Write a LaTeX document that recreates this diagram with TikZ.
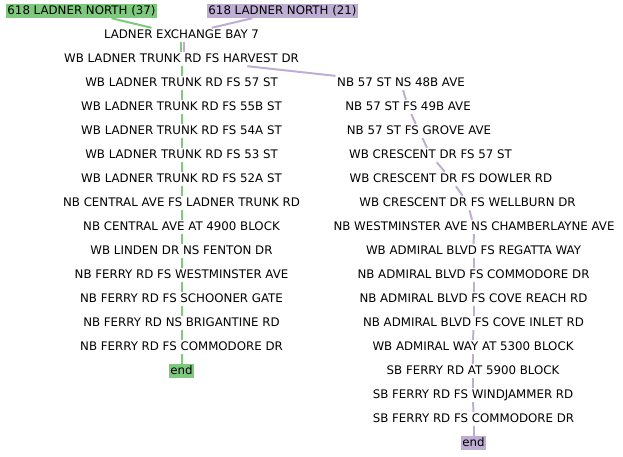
\documentclass[tikz,border=0pt]{standalone}
\usepackage{fontspec}
\setmainfont{DejaVu Sans}
\definecolor{greenroute}{HTML}{7FC97F}
\definecolor{purpleroute}{HTML}{BEAED4}
\tikzset{
  stop/.style={inner xsep=1.5pt, inner ysep=1pt, text height=9.5pt, text depth=2.5pt,
    font=\fontsize{11.8}{14}\selectfont},
  greenbox/.style={stop, fill=greenroute},
  purplebox/.style={stop, fill=purpleroute},
  greenline/.style={draw=greenroute, line width=2pt},
  purpleline/.style={draw=purpleroute, line width=2pt}
}

\begin{document}
\begin{tikzpicture}[x=1pt,y=-1pt]
    \useasboundingbox (0,0) rectangle (623,456);

    % Routes
    \node[greenbox]  (r37) at (81.5,11) {618 LADNER NORTH (37)};
    \node[purplebox] (r21) at (282.5,11) {618 LADNER NORTH (21)};

    % Vertices, left column
    \node[stop] (exchange)   at (181.5,35)  {LADNER EXCHANGE BAY 7};
    \node[stop] (harvest)    at (181.5,59)  {WB LADNER TRUNK RD FS HARVEST DR};
    \node[stop] (st57)       at (181.5,83)  {WB LADNER TRUNK RD FS 57 ST};
    \node[stop] (st55b)      at (181.5,107) {WB LADNER TRUNK RD FS 55B ST};
    \node[stop] (st54a)      at (181.5,131) {WB LADNER TRUNK RD FS 54A ST};
    \node[stop] (st53)       at (181.5,155) {WB LADNER TRUNK RD FS 53 ST};
    \node[stop] (st52a)      at (181.5,179) {WB LADNER TRUNK RD FS 52A ST};
    \node[stop] (centtrunk)  at (181.5,203) {NB CENTRAL AVE FS LADNER TRUNK RD};
    \node[stop] (cent4900)   at (181.5,227) {NB CENTRAL AVE AT 4900 BLOCK};
    \node[stop] (linden)     at (181.5,251) {WB LINDEN DR NS FENTON DR};
    \node[stop] (westmin)    at (181.5,275) {NB FERRY RD FS WESTMINSTER AVE};
    \node[stop] (schooner)   at (181.5,299) {NB FERRY RD FS SCHOONER GATE};
    \node[stop] (brigantine) at (181.5,323) {NB FERRY RD NS BRIGANTINE RD};
    \node[stop] (commodoreA) at (181.5,347) {NB FERRY RD FS COMMODORE DR};
    \node[greenbox] (endA)   at (181.5,371) {end};

    % Vertices, right column
    \node[stop] (ave48b)     at (401,83)    {NB 57 ST NS 48B AVE};
    \node[stop] (ave49b)     at (408,107)   {NB 57 ST FS 49B AVE};
    \node[stop] (grove)      at (419,131)   {NB 57 ST FS GROVE AVE};
    \node[stop] (cres57)     at (430.5,155) {WB CRESCENT DR FS 57 ST};
    \node[stop] (dowler)     at (451,179)   {WB CRESCENT DR FS DOWLER RD};
    \node[stop] (wellburn)   at (467.5,203) {WB CRESCENT DR FS WELLBURN DR};
    \node[stop] (chamber)    at (474,227)   {NB WESTMINSTER AVE NS CHAMBERLAYNE AVE};
    \node[stop] (regatta)    at (473.5,251) {WB ADMIRAL BLVD FS REGATTA WAY};
    \node[stop] (admcomm)    at (473.5,275) {NB ADMIRAL BLVD FS COMMODORE DR};
    \node[stop] (covereach)  at (473.5,299) {NB ADMIRAL BLVD FS COVE REACH RD};
    \node[stop] (coveinlet)  at (473.5,323) {NB ADMIRAL BLVD FS COVE INLET RD};
    \node[stop] (admway)     at (473,347)   {WB ADMIRAL WAY AT 5300 BLOCK};
    \node[stop] (ferry5900)  at (473,371)   {SB FERRY RD AT 5900 BLOCK};
    \node[stop] (windjammer) at (473,395)   {SB FERRY RD FS WINDJAMMER RD};
    \node[stop] (commodoreB) at (473.5,419) {SB FERRY RD FS COMMODORE DR};
    \node[purplebox] (endB)  at (473.5,443) {end};

    % Edges, route 37
    \draw[greenline] (r37) -- (exchange);
    \draw[greenline] ([xshift=-1pt]exchange.south) -- ([xshift=-1pt]harvest.north);
    \draw[greenline] (harvest) -- (st57);
    \draw[greenline] (st57) -- (st55b);
    \draw[greenline] (st55b) -- (st54a);
    \draw[greenline] (st54a) -- (st53);
    \draw[greenline] (st53) -- (st52a);
    \draw[greenline] (st52a) -- (centtrunk);
    \draw[greenline] (centtrunk) -- (cent4900);
    \draw[greenline] (cent4900) -- (linden);
    \draw[greenline] (linden) -- (westmin);
    \draw[greenline] (westmin) -- (schooner);
    \draw[greenline] (schooner) -- (brigantine);
    \draw[greenline] (brigantine) -- (commodoreA);
    \draw[greenline] (commodoreA) -- (endA);

    % Edges, route 21
    \draw[purpleline] (r21) -- (exchange);
    \draw[purpleline] ([xshift=2pt]exchange.south) -- ([xshift=2pt]harvest.north);
    \draw[purpleline] (harvest) -- (ave48b);
    \draw[purpleline] (ave48b) -- (ave49b);
    \draw[purpleline] (ave49b) -- (grove);
    \draw[purpleline] (grove) -- (cres57);
    \draw[purpleline] (cres57) -- (dowler);
    \draw[purpleline] (dowler) -- (wellburn);
    \draw[purpleline] (wellburn) -- (chamber);
    \draw[purpleline] (chamber) -- (regatta);
    \draw[purpleline] (regatta) -- (admcomm);
    \draw[purpleline] (admcomm) -- (covereach);
    \draw[purpleline] (covereach) -- (coveinlet);
    \draw[purpleline] (coveinlet) -- (admway);
    \draw[purpleline] (admway) -- (ferry5900);
    \draw[purpleline] (ferry5900) -- (windjammer);
    \draw[purpleline] (windjammer) -- (commodoreB);
    \draw[purpleline] (commodoreB) -- (endB);
\end{tikzpicture}
\end{document}
